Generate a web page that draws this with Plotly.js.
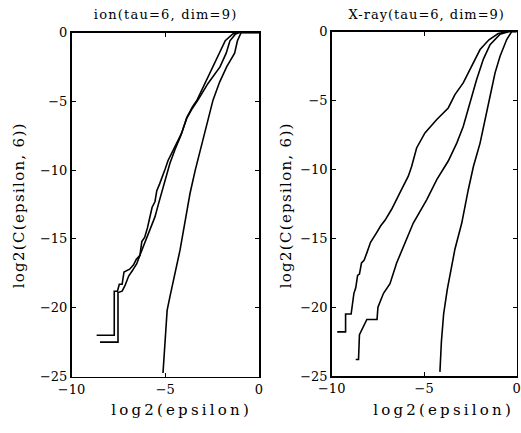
<!DOCTYPE html>
<html><head><meta charset="utf-8">
<script src="https://cdn.plot.ly/plotly-3.0.1.min.js"></script>
<style>body{margin:0;background:#fff}</style>
</head><body><div id="chart" style="width:521px;height:433px"></div>
<script>
// ---- data: ion (tau=6, dim=9) ----
const ionA_x = [-8.66, -7.72, -7.72, -7.55, -7.45, -7.3, -7.2, -6.9, -6.7, -6.55, -6.35, -6.25, -6.1, -5.95, -5.8, -5.7, -5.55, -5.45, -5.3, -5.15, -5.0, -4.85, -4.6, -4.35, -4.12, -3.86, -3.55, -3.3, -2.88, -2.45, -2.1, -1.8, -1.4, -1.1, 0];
const ionA_y = [-22.0, -22.0, -18.8, -18.8, -18.3, -18.3, -17.4, -17.2, -16.9, -16.5, -16.2, -15.2, -14.9, -14.2, -13.3, -12.7, -12.3, -11.5, -11.0, -10.5, -9.9, -9.3, -8.6, -7.9, -7.3, -6.2, -5.4, -4.9, -3.7, -2.5, -1.5, -0.6, -0.1, 0, 0];
const ionB_x = [-8.48, -7.52, -7.52, -7.3, -7.15, -6.95, -6.75, -6.52, -6.3, -6.15, -6.0, -5.8, -5.55, -5.35, -5.19, -4.95, -4.75, -4.48, -4.2, -3.84, -3.55, -3.25, -2.72, -2.08, -1.75, -1.55, -1.25, -1.05, 0];
const ionB_y = [-22.5, -22.5, -18.9, -18.8, -18.4, -17.7, -17.3, -16.8, -16.0, -15.5, -14.9, -14.3, -13.4, -12.4, -11.6, -10.4, -9.5, -8.5, -7.6, -6.2, -5.5, -4.9, -3.7, -2.5, -1.5, -0.6, -0.1, 0, 0];
const ionC_x = [-5.12, -5.0, -4.9, -4.75, -4.5, -4.21, -3.9, -3.68, -3.4, -3.15, -2.8, -2.45, -2.1, -1.72, -1.3, -1.15, -0.95, 0];
const ionC_y = [-24.75, -22.0, -20.2, -19.2, -17.5, -15.8, -13.4, -11.7, -10.0, -8.6, -6.7, -4.9, -3.6, -2.48, -1.5, -0.6, 0, 0];

// ---- data: X-ray (tau=6, dim=9) ----
const xr1_x = [-9.7, -9.25, -9.25, -8.95, -8.8, -8.7, -8.6, -8.5, -8.39, -8.25, -8.11, -7.9, -7.57, -7.35, -7.12, -6.76, -6.31, -5.86, -5.68, -5.41, -4.96, -4.32, -3.7, -3.34, -2.89, -2.43, -1.98, -1.5, -1.0, -0.45, 0];
const xr1_y = [-21.8, -21.8, -20.5, -20.5, -19.0, -18.6, -17.7, -17.6, -16.8, -16.6, -16.1, -15.3, -14.6, -14.1, -13.7, -12.9, -11.7, -10.5, -9.8, -8.45, -7.36, -6.39, -5.55, -4.58, -3.73, -2.52, -1.31, -0.6, -0.15, 0, 0];
const xr2_x = [-8.7, -8.55, -8.5, -8.3, -8.1, -7.55, -7.5, -7.2, -6.85, -6.49, -6.04, -5.59, -4.86, -4.32, -3.7, -3.24, -2.89, -2.53, -2.17, -1.8, -1.44, -0.9, -0.4, 0];
const xr2_y = [-23.8, -23.8, -22.0, -21.5, -20.9, -20.9, -20.0, -19.0, -18.3, -16.8, -15.4, -13.9, -12.2, -10.75, -9.4, -8.1, -6.9, -5.2, -3.5, -2.0, -0.95, -0.2, 0, 0];
const xr3_x = [-4.15, -4.07, -3.95, -3.75, -3.34, -2.97, -2.62, -2.34, -1.98, -1.73, -1.44, -1.17, -0.9, -0.54, -0.27, 0];
const xr3_y = [-24.7, -22.5, -20.5, -18.7, -15.8, -13.9, -11.5, -9.8, -8.1, -6.4, -4.7, -3.0, -1.8, -0.58, 0, 0];

// ---- labels ----
const titles = ['ion(tau=6, dim=9)', 'X-ray(tau=6, dim=9)'];
const yTitle = 'log2(C(epsilon, 6))';
const xTitle = 'log2(epsilon)';
const xTicks = [-10, -5, 0];
const yTicks = [-25, -20, -15, -10, -5, 0];

const FONT = 'DejaVu Serif';
const lineStyle = {color: '#000', width: 1.6};

function tr(x, y, xa, ya) {
  return {x: x, y: y, xaxis: xa, yaxis: ya, type: 'scatter', mode: 'lines',
          line: lineStyle, hoverinfo: 'skip'};
}
const data = [
  tr(ionA_x, ionA_y, 'x', 'y'), tr(ionB_x, ionB_y, 'x', 'y'), tr(ionC_x, ionC_y, 'x', 'y'),
  tr(xr1_x, xr1_y, 'x2', 'y2'), tr(xr2_x, xr2_y, 'x2', 'y2'), tr(xr3_x, xr3_y, 'x2', 'y2')
];

function xax(dom, anchor) {
  return {domain: dom, anchor: anchor, range: [-10, 0], tickmode: 'array', tickvals: xTicks,
    ticks: 'inside', ticklen: 4, tickcolor: '#000', showline: true, mirror: 'ticks',
    linecolor: '#000', linewidth: 1.5, showgrid: false, zeroline: false, automargin: false,
    tickfont: {family: FONT, size: 13, color: '#000'}, fixedrange: true};
}
function yax(dom, anchor) {
  return {domain: dom, anchor: anchor, range: [-25, 0], tickmode: 'array', tickvals: yTicks,
    ticks: 'inside', ticklen: 4, tickcolor: '#000', showline: true, mirror: 'ticks',
    linecolor: '#000', linewidth: 1.5, showgrid: false, zeroline: false, automargin: false,
    tickfont: {family: FONT, size: 13, color: '#000'}, fixedrange: true};
}
function ann(text, x, y, size, angle) {
  return {text: text, x: x, y: y, xref: 'paper', yref: 'paper', showarrow: false,
    xanchor: 'center', yanchor: 'middle', textangle: angle || 0,
    font: {family: FONT, size: size, color: '#000'}};
}
const W = 521, H = 433;
const layout = {
  width: W, height: H, margin: {l: 0, r: 0, t: 0, b: 0},
  paper_bgcolor: '#fff', plot_bgcolor: '#fff', showlegend: false,
  font: {family: FONT},
  xaxis: xax([71.5 / W, 259 / W], 'y'),
  yaxis: yax([1 - 376.5 / H, 1 - 32.5 / H], 'x'),
  xaxis2: xax([331.7 / W, 516.7 / W], 'y2'),
  yaxis2: yax([1 - 376 / H, 1 - 31.5 / H], 'x2'),
  annotations: [
    ann(titles[0], 165 / W, 1 - 15 / H, 13),
    ann(titles[1], 426 / W, 1 - 15 / H, 13),
    ann(yTitle, 19 / W, 1 - 206 / H, 15, -90),
    ann(yTitle, 286 / W, 1 - 206 / H, 15, -90),
    ann(xTitle, 181 / W, 1 - 410 / H, 15),
    ann(xTitle, 443 / W, 1 - 410 / H, 15)
  ]
};
const spacing = [1.2, 1.0, 1.3, 1.3, 3.2, 3.2];
Plotly.newPlot('chart', data, layout, {staticPlot: true, displayModeBar: false}).then(function (gd) {
  gd.querySelectorAll('g.annotation').forEach(function (g) {
    const i = +g.getAttribute('data-index');
    const t = g.querySelector('text.annotation-text');
    if (t && spacing[i] !== undefined) t.style.letterSpacing = spacing[i] + 'px';
  });
});
</script>
</body></html>
